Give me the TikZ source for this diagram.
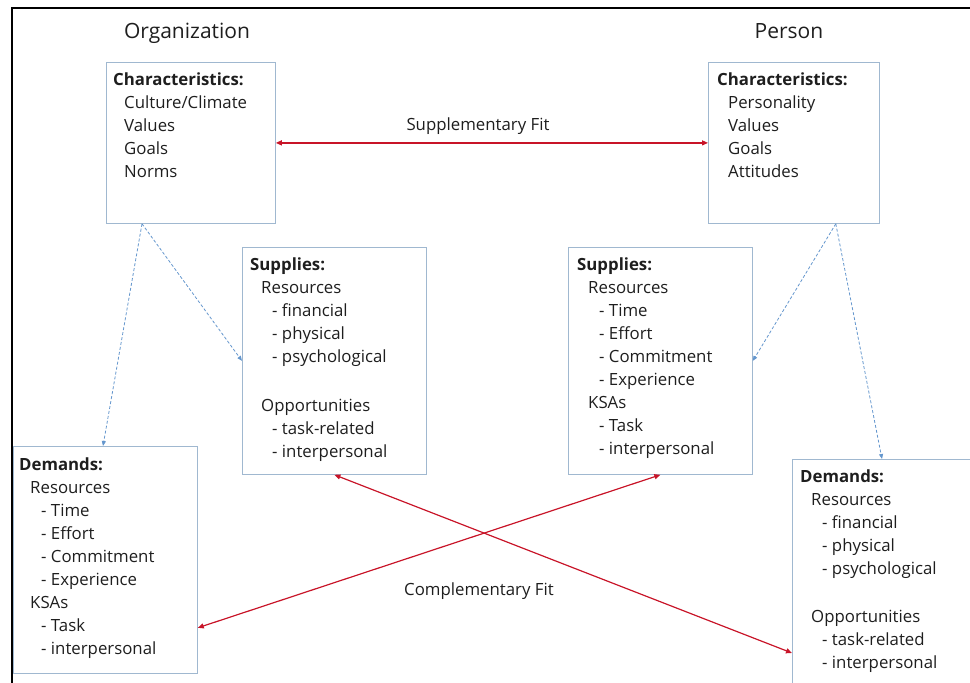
\documentclass[tikz,border=0pt]{standalone}
\usepackage{fontspec}
\setmainfont{Open Sans}
\usetikzlibrary{arrows.meta}
\definecolor{boxline}{RGB}{160,184,208}
\definecolor{fitred}{RGB}{200,20,40}
\definecolor{linkblue}{RGB}{100,150,205}
\definecolor{inktext}{RGB}{30,30,30}
\newcommand{\ia}{\hspace*{11pt}}
\newcommand{\ib}{\hspace*{22pt}}

\begin{document}
\begin{tikzpicture}[x=1pt,y=-1pt,
  box/.style={draw=boxline, line width=0.8pt, anchor=north west, inner sep=0pt},
  txt/.style={anchor=north west, inner sep=0pt, align=left, text=inktext,
    font=\fontsize{16.8}{23}\selectfont},
  title/.style={anchor=base, text=inktext, font=\fontsize{21}{24}\selectfont},
  fitarrow/.style={draw=fitred, line width=1.2pt,
    {Triangle[length=6pt,width=5pt]}-{Triangle[length=6pt,width=5pt]}},
  link/.style={draw=linkblue, line width=0.8pt, dash pattern=on 3pt off 2pt,
    -{Triangle[length=5pt,width=4pt]}}]
  \useasboundingbox (0,0) rectangle (970,683);
  \clip (0,0) rectangle (970,683);
  % outer frame
  \draw[line width=1.6pt] (12,700) -- (12,8) -- (990,8);

  % titles
  \node[title] (orgTitle) at (187,38) {Organization};
  \node[title] (personTitle) at (789,38) {Person};

  % boxes
  \node[box, minimum width=169pt, minimum height=161pt] (orgChar) at (106,62) {};
  \node[box, minimum width=171pt, minimum height=161pt] (personChar) at (708,62) {};
  \node[box, minimum width=184pt, minimum height=227pt] (orgSupp) at (242,247) {};
  \node[box, minimum width=184pt, minimum height=227pt] (personSupp) at (568,247) {};
  \node[box, minimum width=184pt, minimum height=227pt] (orgDem) at (13,446) {};
  \node[box, minimum width=200pt, minimum height=240pt] (personDem) at (792,459) {};

  % box texts
  \node[txt] (orgCharTxt) at ([shift={(7,11)}]orgChar.north west)
    {\textbf{Characteristics:}\\ \ia Culture/Climate\\ \ia Values\\ \ia Goals\\ \ia Norms};
  \node[txt] (personCharTxt) at ([shift={(9,11)}]personChar.north west)
    {\textbf{Characteristics:}\\ \ia Personality\\ \ia Values\\ \ia Goals\\ \ia Attitudes};
  \node[txt] (orgSuppTxt) at ([shift={(8,11)}]orgSupp.north west)
    {\textbf{Supplies:}\\ \ia Resources\\ \ib - financial\\ \ib - physical\\ \ib - psychological\\[26pt]
     \ia Opportunities\\ \ib - task-related\\ \ib - interpersonal};
  \node[txt] (personSuppTxt) at ([shift={(9,11)}]personSupp.north west)
    {\textbf{Supplies:}\\ \ia Resources\\ \ib - Time\\ \ib - Effort\\ \ib - Commitment\\ \ib - Experience\\
     \ia KSAs\\ \ib - Task\\ \ib - interpersonal};
  \node[txt] (orgDemTxt) at ([shift={(6,12)}]orgDem.north west)
    {\textbf{Demands:}\\ \ia Resources\\ \ib - Time\\ \ib - Effort\\ \ib - Commitment\\ \ib - Experience\\
     \ia KSAs\\ \ib - Task\\ \ib - interpersonal};
  \node[txt] (personDemTxt) at ([shift={(8,11)}]personDem.north west)
    {\textbf{Demands:}\\ \ia Resources\\ \ib - financial\\ \ib - physical\\ \ib - psychological\\[25pt]
     \ia Opportunities\\ \ib - task-related\\ \ib - interpersonal};

  % fit labels
  \node[txt, anchor=center] (suppFit) at (478,126) {Supplementary Fit};
  \node[txt, anchor=center] (compFit) at (479,591) {Complementary Fit};

  % fit arrows
  \draw[fitarrow] (orgChar.east) -- (personChar.west);
  \draw[fitarrow] (orgSupp.south) -- ([shift={(0,194)}]personDem.north west);
  \draw[fitarrow] (personSupp.south) -- ([shift={(0,-46)}]orgDem.south east);

  % dashed links
  \draw[link] ([shift={(36,0)}]orgChar.south west) -- ([shift={(90,0)}]orgDem.north west);
  \draw[link] ([shift={(36,0)}]orgChar.south west) -- (orgSupp.west);
  \draw[link] ([shift={(-44,0)}]personChar.south east) -- (personSupp.east);
  \draw[link] ([shift={(-44,0)}]personChar.south east) -- ([shift={(90,0)}]personDem.north west);
\end{tikzpicture}
\end{document}
